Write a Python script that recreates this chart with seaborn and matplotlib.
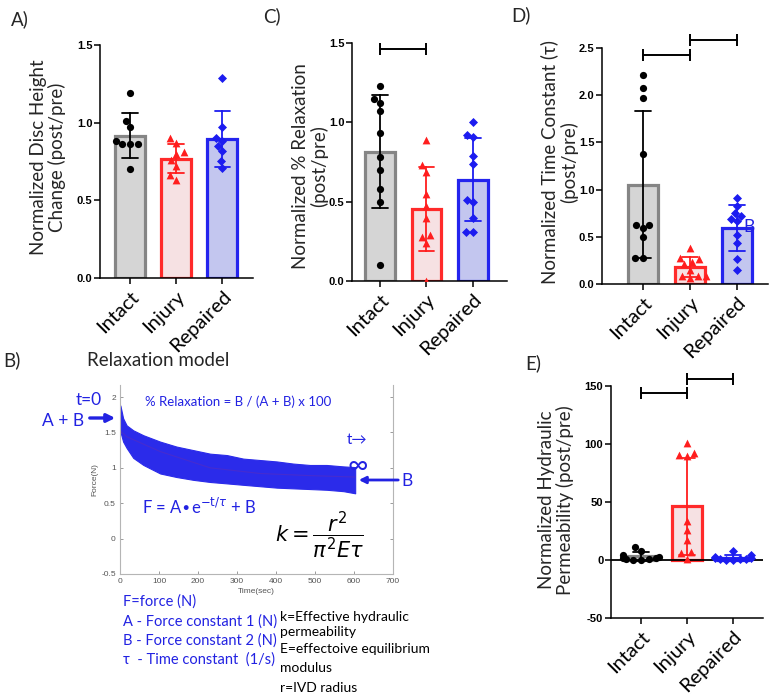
import numpy as np
import pandas as pd
import seaborn as sns
import matplotlib.pyplot as plt

W, H = 772, 696

groups = ['Intact', 'Injury', 'Repaired']

# A) normalized disc height change
height_intact = [1.19, 1.01, 0.97, 0.88, 0.86, 0.86, 0.86, 0.70]
height_injury = [0.90, 0.87, 0.81, 0.80, 0.76, 0.72, 0.66, 0.63]
height_repaired = [1.29, 0.97, 0.90, 0.88, 0.85, 0.82, 0.75, 0.71]

# C) normalized % relaxation
relax_intact = [1.23, 1.15, 1.12, 1.07, 0.93, 0.78, 0.70, 0.58, 0.50, 0.10]
relax_injury = [0.89, 0.73, 0.69, 0.55, 0.47, 0.40, 0.29, 0.28, 0.24, 0.0]
relax_repaired = [1.00, 0.92, 0.91, 0.79, 0.74, 0.51, 0.50, 0.40, 0.31, 0.31]

# D) normalized time constant
tau_intact = [2.21, 2.08, 1.97, 1.38, 0.63, 0.62, 0.59, 0.50, 0.28, 0.28]
tau_injury = [0.38, 0.28, 0.27, 0.23, 0.21, 0.15, 0.09, 0.09, 0.08, 0.06]
tau_repaired = [0.91, 0.83, 0.75, 0.72, 0.69, 0.67, 0.52, 0.43, 0.27, 0.15]

# E) normalized hydraulic permeability
perm_intact = [11.5, 7.5, 4.5, 3.0, 2.0, 1.5, 1.0, 0.5, 0.3, 0.2]
perm_injury = [101, 92.5, 90.5, 89.7, 33.9, 25.9, 17.2, 6.6, 5.7, 0.9]
perm_repaired = [7.5, 4.0, 3.0, 2.0, 1.5, 1.0, 0.8, 0.5, 0.3, 0.2]

# significance bars (from group, to group, height)
brackets_C = [(0, 1, 1.46)]
brackets_D = [(0, 1, 2.43), (1, 2, 2.58)]
brackets_E = [(0, 1, 143.7), (1, 2, 155.8)]

# B) force relaxation trace, read as an envelope of the noisy signal
trace_t = [1, 8, 17, 34, 60, 103, 145, 188, 231, 274, 316, 359, 402, 444, 487, 530, 573, 603]
trace_hi = [1.88, 1.70, 1.60, 1.53, 1.46, 1.37, 1.30, 1.25, 1.20, 1.18, 1.13, 1.11, 1.09, 1.06, 1.04, 1.04, 1.02, 1.01]
trace_lo = [1.51, 1.37, 1.28, 1.14, 1.04, 0.92, 0.87, 0.83, 0.80, 0.78, 0.76, 0.74, 0.72, 0.71, 0.70, 0.69, 0.67, 0.64]
fit_t = [1, 17, 103, 231, 359, 487, 603]
fit_f = [1.52, 1.44, 1.23, 1.00, 0.92, 0.89, 0.87]

bar_fill = ['#d5d5d5', '#f9dde0', '#bcc0f6']
bar_edge = ['#858585', '#ff2a2a', '#2424ee']
pt_color = ['#000000', '#ff1e1e', '#1c1cf0']
pt_marker = ['o', '^', 'D']
pt_size = [5.2, 5.6, 4.6]
BLUE = '#2222e2'

sns.set_style('ticks')
plt.rcParams['font.family'] = ['Lato', 'DejaVu Sans']
plt.rcParams['mathtext.fontset'] = 'dejavusans'

fig = plt.figure(figsize=(W / 100, H / 100), dpi=100)


def px_axes(left, top, right, bottom):
    return fig.add_axes([left / W, 1 - bottom / H, (right - left) / W, (bottom - top) / H])


def ftext(x, y, s, **kw):
    fig.text(x / W, 1 - y / H, s, **kw)


def bar_panel(ax, values, ylim, yticks, ylabels, xlim, brackets=()):
    df = pd.DataFrame({'group': np.repeat(groups, [len(v) for v in values]),
                       'value': np.concatenate(values)})
    sns.barplot(data=df, x='group', y='value', hue='group', order=groups, hue_order=groups,
                palette=bar_fill, errorbar='sd', capsize=0.33, width=0.64,
                err_kws={'linewidth': 1.3}, legend=False, ax=ax)
    for p in ax.patches:
        i = int(round(p.get_x() + p.get_width() / 2))
        p.set_edgecolor(bar_edge[i])
        p.set_linewidth(2.3)
    for ln in ax.lines:
        i = int(round(np.nanmean(ln.get_xdata())))
        ln.set_color(pt_color[i])
        ln.set_zorder(4)
    for g, vals, c, m, s in zip(groups, values, pt_color, pt_marker, pt_size):
        sns.swarmplot(x=[g] * len(vals), y=vals, order=groups, color=c, marker=m,
                      size=s, linewidth=0, ax=ax, zorder=3, warn_thresh=1)
    for i, j, y in brackets:
        ax.plot([i, j], [y, y], color='k', lw=1.4, marker='|', markersize=9,
                markeredgewidth=1.4, clip_on=False)
    ax.set_xlim(*xlim)
    ax.set_ylim(*ylim)
    ax.set_yticks(yticks)
    ax.set_yticklabels(ylabels, fontfamily='Liberation Sans', fontweight='bold', fontsize=8)
    ax.set_xticks(range(3))
    ax.set_xticklabels(groups, rotation=45, ha='right', rotation_mode='anchor', fontsize=14.5)
    ax.set_xlabel('')
    ax.set_ylabel('')
    for side in ['top', 'right']:
        ax.spines[side].set_visible(False)
    for side in ['left', 'bottom']:
        ax.spines[side].set_linewidth(1.1)
        ax.spines[side].set_color('black')
    ax.tick_params(direction='out', length=4, width=1.1, colors='black')
    ax.tick_params(axis='x', pad=3)
    ax.tick_params(axis='y', pad=1.5)
    ax.set_facecolor('none')


# ---- A
axA = px_axes(100, 45, 253, 278)
bar_panel(axA, [height_intact, height_injury, height_repaired], (0, 1.5),
          [0, 0.5, 1.0, 1.5], ['0.0', '0.5', '1.0', '1.5'], (-0.65, 2.67))
ftext(48, 157, 'Normalized Disc Height\nChange (post/pre)', rotation=90, ha='center', va='center',
      fontsize=13.5, linespacing=1.1)
ftext(20, 19, 'A)', ha='center', va='center', fontsize=13.5)

# ---- C
axC = px_axes(352, 43, 507, 281)
bar_panel(axC, [relax_intact, relax_injury, relax_repaired], (0, 1.5),
          [0, 0.5, 1.0, 1.5], ['0.0', '0.5', '1.0', '1.5'], (-0.6, 2.73), brackets_C)
ftext(310, 166, 'Normalized % Relaxation\n(post/pre)', rotation=90, ha='center', va='center',
      fontsize=13.5, linespacing=1.1)
ftext(272, 16, 'C)', ha='center', va='center', fontsize=13.5)

# ---- D
axD = px_axes(602, 48, 768, 284)
bar_panel(axD, [tau_intact, tau_injury, tau_repaired], (0, 2.5),
          [0, 0.5, 1.0, 1.5, 2.0, 2.5], ['0.0', '0.5', '1.0', '1.5', '2.0', '2.5'],
          (-0.87, 2.66), brackets_D)
ftext(559, 162, 'Normalized Time Constant (\u03c4)\n(post/pre)', rotation=90, ha='center',
      va='center', fontsize=13.5, linespacing=1.1)
ftext(521, 15, 'D)', ha='center', va='center', fontsize=13.5)
ftext(749, 227, 'B', ha='center', va='center', fontsize=12.5, color=BLUE)

# ---- E
axE = px_axes(611, 386, 763, 618)
bar_panel(axE, [perm_intact, perm_injury, perm_repaired], (-50, 150),
          [-50, 0, 50, 100, 150], ['-50', '0', '50', '100', '150'], (-0.65, 2.65), brackets_E)
axE.axhline(0, color='black', lw=1.3, zorder=1)
ftext(556, 500, 'Normalized Hydraulic\nPermeability (post/pre)', rotation=90, ha='center',
      va='center', fontsize=13.5, linespacing=1.1)
ftext(533, 363, 'E)', ha='center', va='center', fontsize=13.5)

# ---- B
axB = px_axes(120, 385, 393, 574)
axB.fill_between(trace_t, trace_lo, trace_hi, color='#2b2bea', edgecolor='#2b2bea', lw=0.8)
axB.plot([0.8, 0.8], [-0.47, 1.9], color='#a4a4f2', lw=1.2)
sns.lineplot(x=fit_t, y=fit_f, color='#b0306a', alpha=0.2, lw=0.8, ax=axB)
axB.set_xlim(0, 700)
axB.set_ylim(-0.5, 2.17)
axB.set_xticks(range(0, 701, 100))
axB.set_yticks([-0.5, 0, 0.5, 1, 1.5, 2])
axB.set_yticklabels(['-0.5', '0', '0.5', '1', '1.5', '2'])
axB.tick_params(direction='in', length=2.5, width=0.6, colors='#8a8a8a', labelcolor='#555555',
                labelsize=6, right=True, pad=3)
for lab in axB.get_xticklabels() + axB.get_yticklabels():
    lab.set_fontfamily('Liberation Sans')
axB.spines['top'].set_visible(False)
for side in ['left', 'right', 'bottom']:
    axB.spines[side].set_color('#b5b5b5')
    axB.spines[side].set_linewidth(0.8)
axB.set_xlabel('Time(sec)', fontsize=6, color='#555555', fontfamily='Liberation Sans', labelpad=2)
axB.set_ylabel('Force(N)', fontsize=6, color='#555555', fontfamily='Liberation Sans', labelpad=2)

ftext(12, 360, 'B)', ha='center', va='center', fontsize=13.5)
ftext(87, 360, 'Relaxation model', ha='left', va='center', fontsize=13.5)
ftext(89, 400, 't=0', ha='center', va='center', fontsize=12.5, color=BLUE)
ftext(63, 421, 'A + B', ha='center', va='center', fontsize=12.5, color=BLUE)
fig.add_artist(plt.matplotlib.patches.FancyArrowPatch(
    (87 / W, 1 - 418 / H), (118 / W, 1 - 418 / H), transform=fig.transFigure,
    arrowstyle='-|>', mutation_scale=12, lw=2.4, color=BLUE))
ftext(238, 402, '% Relaxation = B / (A + B) x 100', ha='center', va='center', fontsize=9.5,
      color=BLUE)
ftext(347, 440, 't\u2192', ha='left', va='center', fontsize=11, color=BLUE)
ftext(358, 466, '\u221e', ha='center', va='center', fontsize=20, color=BLUE)
fig.add_artist(plt.matplotlib.patches.FancyArrowPatch(
    (401 / W, 1 - 480 / H), (356 / W, 1 - 480 / H), transform=fig.transFigure,
    arrowstyle='-|>', mutation_scale=10, lw=2.0, color=BLUE))
ftext(407, 481, 'B', ha='center', va='center', fontsize=12.5, color=BLUE)
ftext(142, 507, r'F = A$\bullet$e$^{\mathrm{-t/}\tau}$ + B', ha='left', va='center',
      fontsize=12, color=BLUE)
ftext(320, 535, r'$k = \dfrac{r^2}{\pi^2 E\tau}$', ha='center', va='center', fontsize=15,
      color='black')

blue_notes = ['F=force (N)', 'A - Force constant 1 (N)', 'B - Force constant 2 (N)',
              '\u03c4  - Time constant  (1/s)']
for k, s in enumerate(blue_notes):
    ftext(123, 602 + 19.3 * k, s, ha='left', va='center', fontsize=10.5, color=BLUE)
black_notes = ['k=Effective hydraulic', 'permeability', 'E=effectoive equilibrium', 'modulus',
               'r=IVD radius']
for y, s in zip([617, 632, 649, 668, 688], black_notes):
    ftext(280, y, s, ha='left', va='center', fontsize=10, color='black')

fig.savefig('out.png', dpi=100)
